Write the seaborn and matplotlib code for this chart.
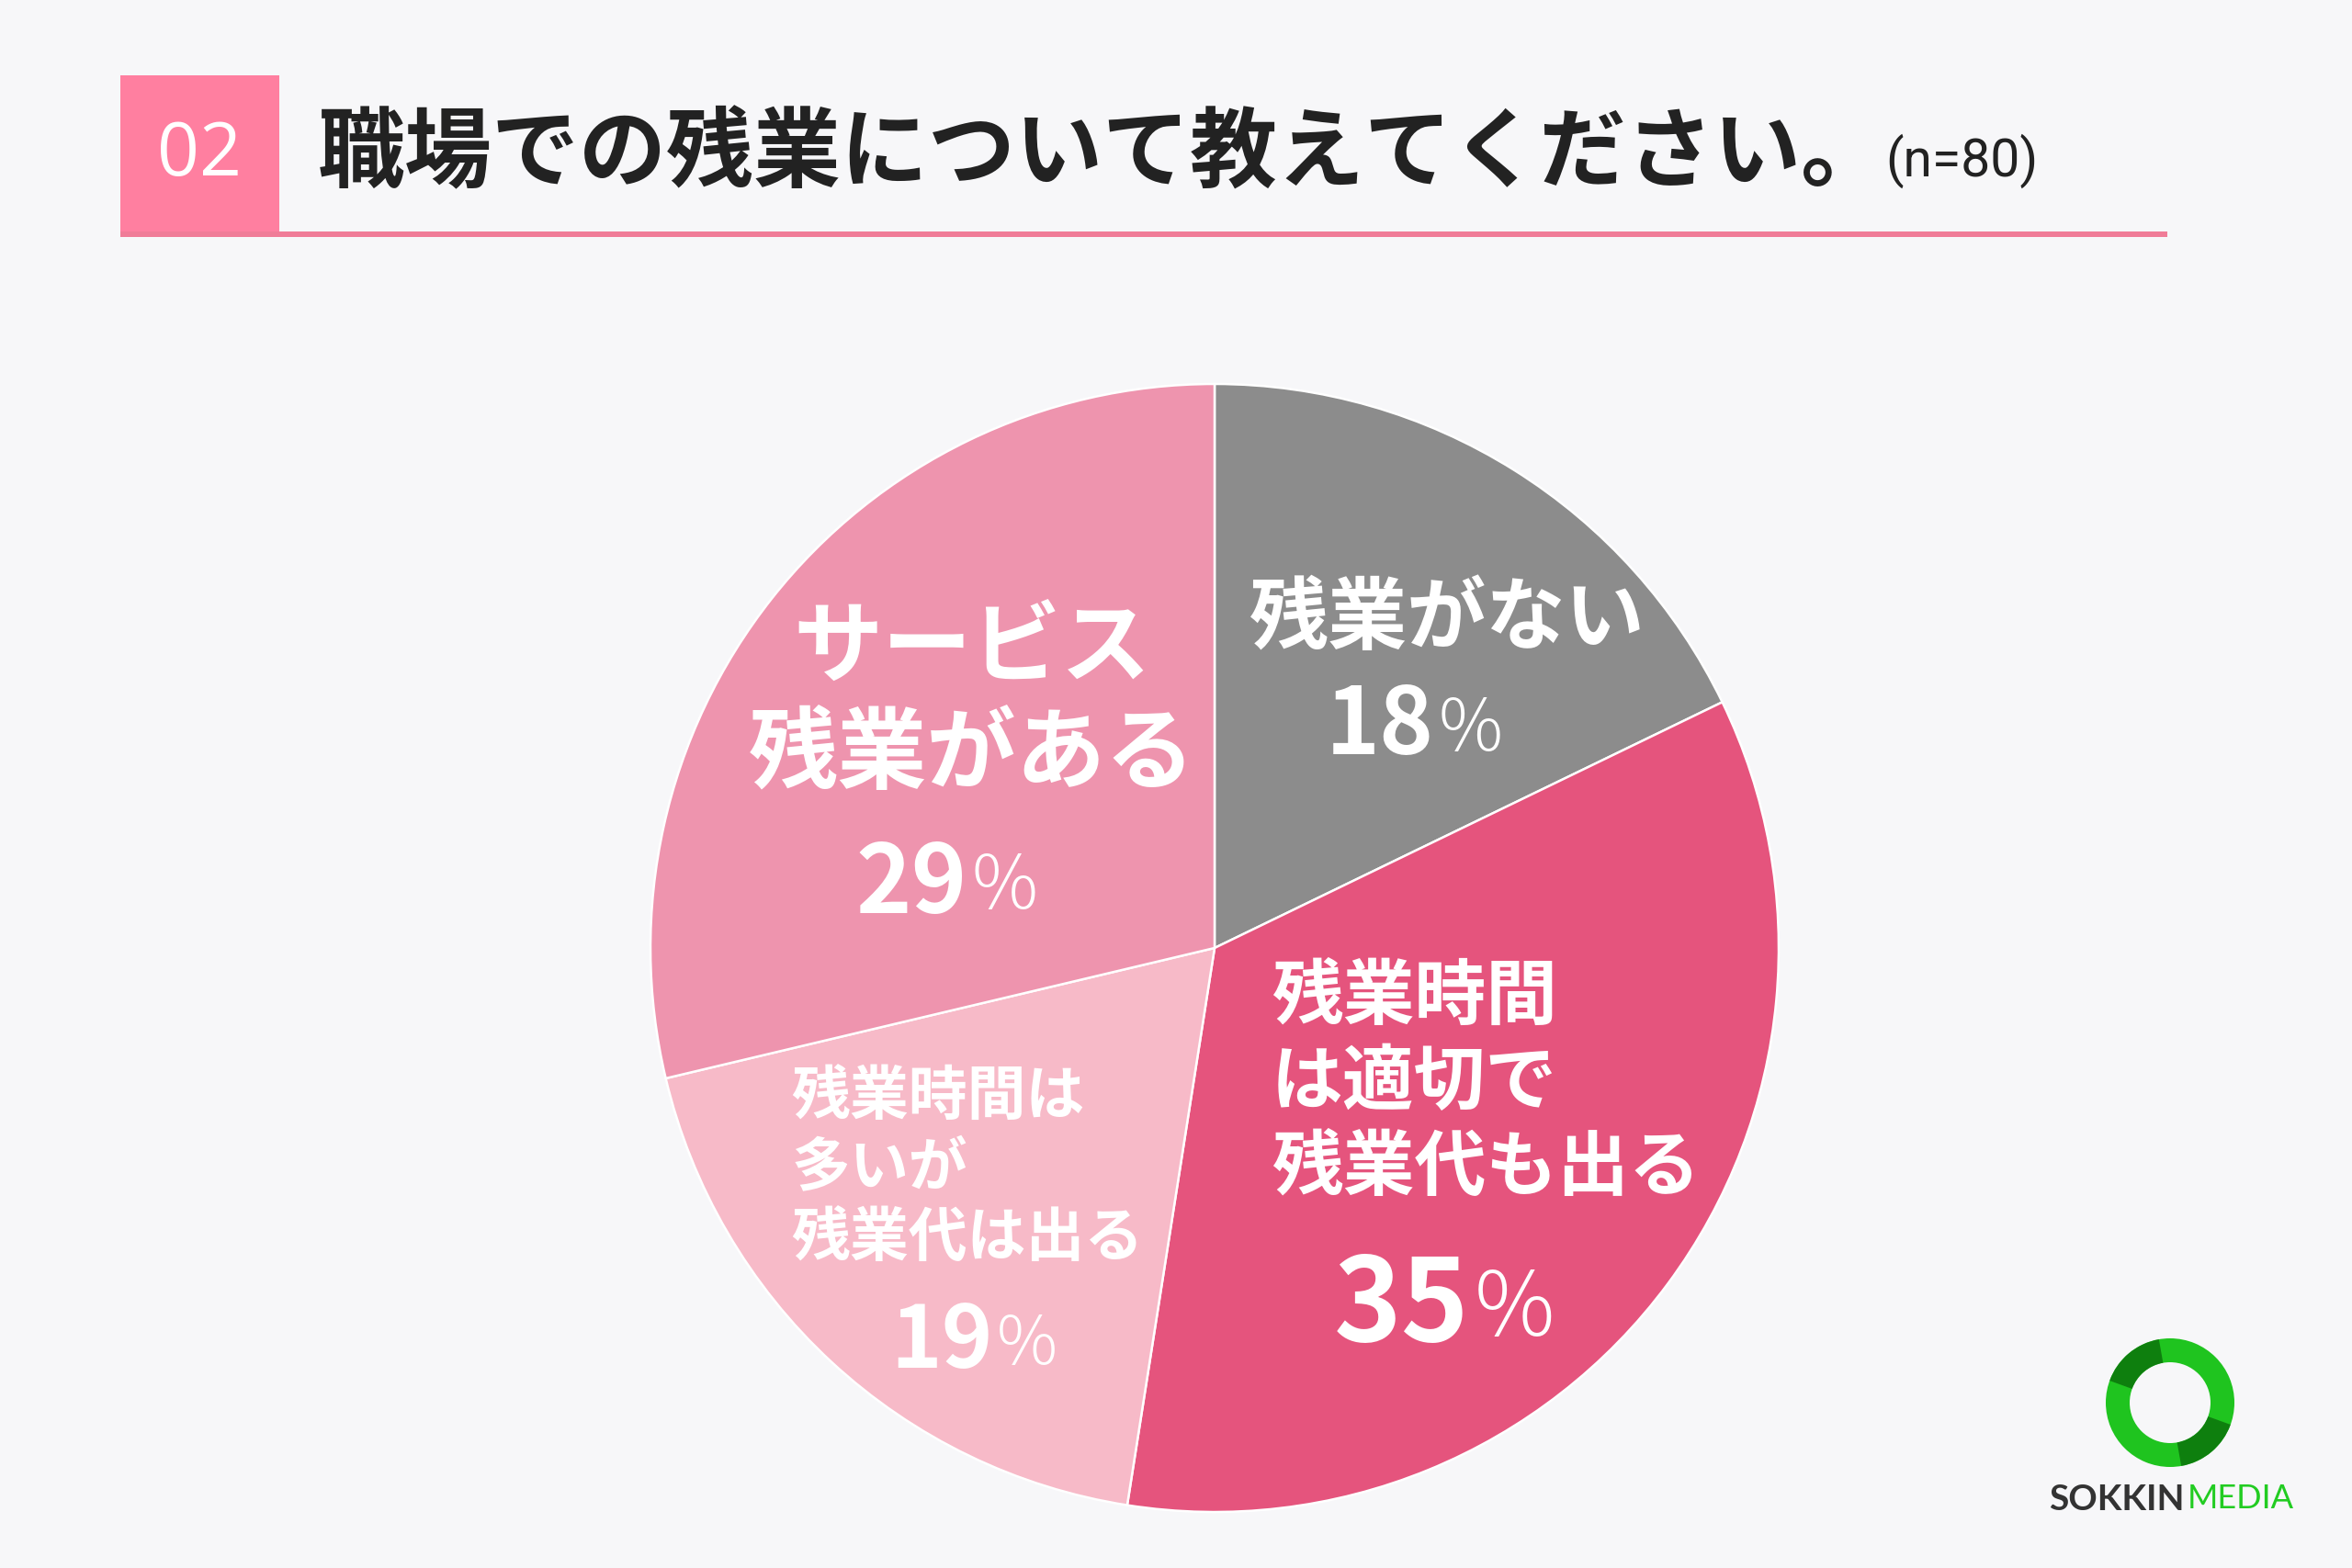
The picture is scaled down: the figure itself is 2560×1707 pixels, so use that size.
import matplotlib
matplotlib.use("Agg")
import matplotlib.pyplot as plt
from matplotlib.patches import Rectangle, Wedge
import seaborn as sns

# ---- data ----
categories = ["残業がない", "残業時間は適切で残業代も出る", "残業時間は多いが残業代は出る", "サービス残業がある"]
label_texts = ["残業がない", "残業時間\nは適切で\n残業代も出る", "残業時間は\n多いが\n残業代は出る", "サービス\n残業がある"]
values = [18, 35, 19, 29]
colors = ["#8c8c8c", "#e5547d", "#f7bac8", "#ee94ae"]
title = "職場での残業について教えてください。"
n_text = "(n=80)"
number_text = "02"

sns.set_theme(style="white")
plt.rcParams["font.family"] = ["Noto Sans CJK JP", "DejaVu Sans"]

BG = "#f7f7f9"
W, H = 2560, 1707
fig = plt.figure(figsize=(12.8, 8.535), dpi=200, facecolor=BG)

# overlay in pixel coordinates
ov = fig.add_axes([0, 0, 1, 1], facecolor=BG)
ov.set_xlim(0, W)
ov.set_ylim(H, 0)
ov.axis("off")

ov.add_patch(Rectangle((131, 82), 173, 174, color="#ff7fa0", lw=0))
ov.add_patch(Rectangle((131, 252), 2228, 6, color="#f07c98", lw=0))
ov.text(217, 170, number_text, color="white", fontsize=29, ha="center", va="center",
        family=["Open Sans", "DejaVu Sans"])
ov.text(346, 168, title, color="#222222", fontsize=34.2, fontweight="bold",
        ha="left", va="center")
ov.text(2052, 175, n_text, color="#222222", fontsize=20.5, ha="left", va="center",
        family=["Roboto", "DejaVu Sans"])

# logo
cx, cy = 2362, 1527
ov.add_patch(Wedge((cx, cy), 70, 0, 360, width=26, color="#1fc41f", lw=0))
ov.add_patch(Wedge((cx, cy), 70, 20, 80, width=26, color="#0a6e0a", lw=0, alpha=0.8))
ov.add_patch(Wedge((cx, cy), 70, 200, 260, width=26, color="#0a6e0a", lw=0, alpha=0.8))
ov.text(2230, 1632, "SOKKIN", color="#333333", fontsize=14, fontweight="bold",
        ha="left", va="center", family=["Lato", "DejaVu Sans"])
ov.text(2381, 1632, "MEDIA", color="#22cc22", fontsize=13,
        ha="left", va="center", family=["Lato", "DejaVu Sans"])

# pie
pcx, pcy, r = 1322, 1032, 614
ax = fig.add_axes([(pcx - r) / W, (H - pcy - r) / H, 2 * r / W, 2 * r / H])
ax.set_facecolor("none")
ax.pie(values, colors=colors, startangle=90, counterclock=False, radius=1,
       wedgeprops=dict(edgecolor="white", linewidth=0.9))
ax.set_xlim(-1, 1)
ax.set_ylim(-1, 1)
ax.set_aspect("equal")
ax.axis("off")

def px(x, y):
    return ((x - 810) / 376, (632 - y) / 376)

# label layout (shrunk-pixel anchors)
name_pos = [(965, 413, "center", 31), (848, 722, "left", 28), (528, 779, "left", 23), (648, 468, "center", 35)]
pct_pos = [(956, 485, 36), (980, 872, 45), (662, 895, 34), (645, 590, 37)]

for i in range(len(values)):
    x, y, ha, fs = name_pos[i]
    ax.text(*px(x, y), label_texts[i], color="white", fontsize=fs, fontweight="bold",
            ha=ha, va="center", linespacing=1.22)
    x, y, fs = pct_pos[i]
    xx, yy = px(x, y)
    ax.text(xx, yy, str(values[i]), color="white", fontsize=fs, fontweight="bold",
            ha="right", va="center")
    ax.text(xx + 0.008, yy - 0.005, "%", color="white", fontsize=fs * 0.78,
            ha="left", va="center", fontweight="light")

fig.savefig("out.png", dpi=200, facecolor=BG)
